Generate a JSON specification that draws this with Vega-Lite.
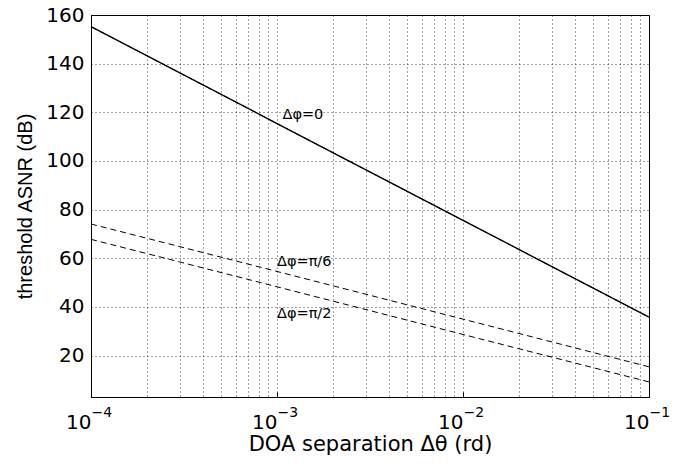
{
  "$schema": "https://vega.github.io/schema/vega-lite/v6.json",
  "width": 558,
  "height": 382,
  "autosize": {"type": "none"},
  "padding": {"left": 91, "top": 15, "right": 36, "bottom": 67},
  "background": "white",
  "config": {
    "view": {"stroke": "#000", "strokeWidth": 1},
    "font": "DejaVu Sans",
    "axis": {"labelColor": "#000", "titleColor": "#000", "domainColor": "#000", "tickColor": "#000", "labelFlush": false, "labelOverlap": false, "labelBound": false}
  },
  "datasets": {
    "curves": [
      {"doa": 0.0001, "asnr": 155.2, "series": "Δφ=0"},
      {"doa": 0.001, "asnr": 115.4, "series": "Δφ=0"},
      {"doa": 0.01, "asnr": 75.6, "series": "Δφ=0"},
      {"doa": 0.1, "asnr": 35.8, "series": "Δφ=0"},
      {"doa": 0.0001, "asnr": 74.1, "series": "Δφ=π/6"},
      {"doa": 0.001, "asnr": 54.6, "series": "Δφ=π/6"},
      {"doa": 0.01, "asnr": 35.0, "series": "Δφ=π/6"},
      {"doa": 0.1, "asnr": 15.4, "series": "Δφ=π/6"},
      {"doa": 0.0001, "asnr": 67.8, "series": "Δφ=π/2"},
      {"doa": 0.001, "asnr": 48.3, "series": "Δφ=π/2"},
      {"doa": 0.01, "asnr": 28.7, "series": "Δφ=π/2"},
      {"doa": 0.1, "asnr": 9.2, "series": "Δφ=π/2"}
    ],
    "labels": [
      {"doa": 0.00107, "asnr": 119, "label": "Δφ=0"},
      {"doa": 0.001, "asnr": 58.5, "label": "Δφ=π/6"},
      {"doa": 0.001, "asnr": 37.3, "label": "Δφ=π/2"}
    ]
  },
  "layer": [
    {
      "data": {"name": "curves"},
      "transform": [{"filter": "datum.series === 'Δφ=0'"}],
      "mark": {"type": "line", "color": "#000", "strokeWidth": 1.4},
      "encoding": {
        "x": {
          "field": "doa", "type": "quantitative",
          "scale": {"type": "log", "domain": [0.0001, 0.1], "nice": false},
          "axis": {
            "orient": "bottom",
            "values": [0.0001, 0.0002, 0.0003, 0.0004, 0.0005, 0.0006, 0.0007, 0.0008, 0.0009, 0.001, 0.002, 0.003, 0.004, 0.005, 0.006, 0.007, 0.008, 0.009, 0.01, 0.02, 0.03, 0.04, 0.05, 0.06, 0.07, 0.08, 0.09, 0.1],
            "labelExpr": "abs(log(datum.value)/LN10 - round(log(datum.value)/LN10)) < 0.000001 ? '10' : ''",
            "labelFontSize": 20,
            "labelBaseline": "alphabetic",
            "labelAlign": "right",
            "labelPadding": 31,
            "ticks": false,
            "grid": true,
            "gridColor": "#000",
            "gridOpacity": 0.75,
            "gridDash": [1, 3],
            "domainWidth": 1,
            "title": "DOA separation Δθ (rd)",
            "titleFontSize": 21,
            "titleFontWeight": "normal",
            "titleBaseline": "alphabetic",
            "titleY": 53
          }
        },
        "y": {
          "field": "asnr", "type": "quantitative",
          "scale": {"domain": [3, 160], "nice": false, "zero": false},
          "axis": {
            "values": [20, 40, 60, 80, 100, 120, 140, 160],
            "labelFontSize": 20,
            "labelPadding": 7,
            "ticks": false,
            "grid": true,
            "gridColor": "#000",
            "gridOpacity": 0.75,
            "gridDash": [1, 3],
            "domainWidth": 1,
            "title": "threshold ASNR (dB)",
            "titleFont": "Liberation Sans",
            "titleFontSize": 20,
            "titleFontWeight": "normal",
            "titleBaseline": "alphabetic",
            "titleAlign": "center",
            "titleX": -60,
            "titleY": 191
          }
        }
      }
    },
    {
      "data": {"name": "curves"},
      "mark": {"type": "line", "color": "#000", "strokeWidth": 1, "strokeDash": [6, 4]},
      "encoding": {
        "x": {"field": "doa", "type": "quantitative", "axis": null},
        "y": {"field": "asnr", "type": "quantitative"},
        "detail": {"field": "series"}
      }
    },
    {
      "data": {"name": "labels"},
      "mark": {"type": "text", "align": "left", "baseline": "middle", "fontSize": 14.5, "color": "#000"},
      "encoding": {
        "x": {
          "field": "doa", "type": "quantitative",
          "axis": {
            "orient": "bottom",
            "values": [0.0001, 0.001, 0.01, 0.1],
            "labelExpr": "'−' + toString(-round(log(datum.value)/LN10))",
            "labelFontSize": 14,
            "labelBaseline": "alphabetic",
            "labelAlign": "left",
            "labelPadding": 24,
            "ticks": true,
            "tickSize": -5,
            "grid": false,
            "domain": false,
            "title": null
          }
        },
        "y": {"field": "asnr", "type": "quantitative"},
        "text": {"field": "label"}
      }
    }
  ],
  "resolve": {"axis": {"x": "independent"}}
}
